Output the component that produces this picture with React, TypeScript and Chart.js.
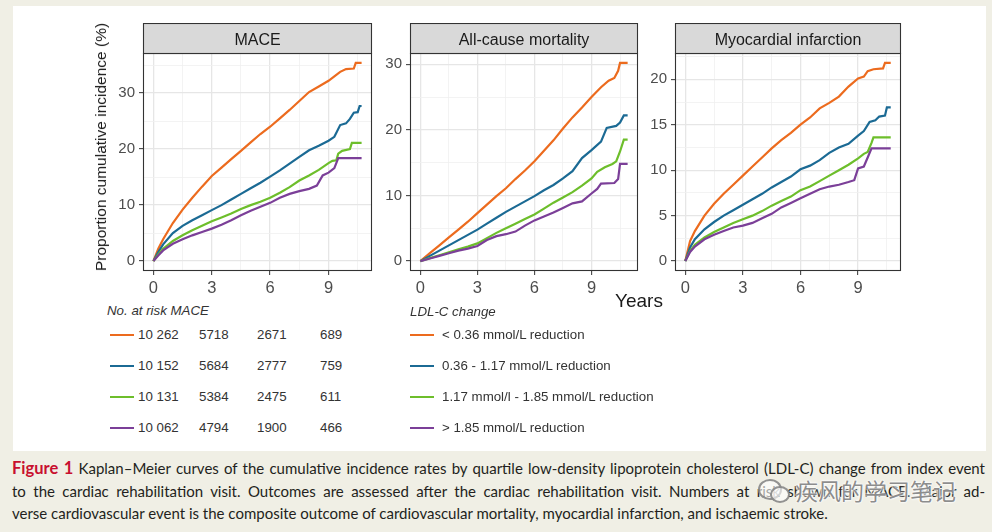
import React, { useEffect, useRef } from 'react';
import { Chart, registerables } from 'chart.js';

Chart.register(...registerables);

type Pt = [number, number];

// ---------- data ----------
const panelTitles = ['MACE', 'All-cause mortality', 'Myocardial infarction'];

const groupLabels = [
  '< 0.36 mmol/L reduction',
  '0.36 - 1.17 mmol/L reduction',
  '1.17 mmol/l - 1.85 mmol/L reduction',
  '> 1.85 mmol/L reduction',
];
const groupColors = ['#EC6B1E', '#1B6A94', '#6DBE2B', '#7B3F98'];

// MACE  [years, %]
const maceQ1: Pt[] = [[0, 0], [0.25, 2.2], [0.5, 3.9], [1, 6.8], [1.5, 9.2], [2, 11.3], [2.5, 13.3], [3, 15.2], [3.5, 16.7], [4, 18.2], [4.5, 19.7], [5, 21.2], [5.5, 22.7], [6, 24.0], [6.5, 25.5], [7, 27.0], [7.5, 28.6], [8, 30.2], [8.5, 31.2], [9, 32.2], [9.3, 33.0], [9.6, 33.8], [9.9, 34.3], [10.3, 34.4], [10.4, 35.4], [10.7, 35.4]];
const maceQ2: Pt[] = [[0, 0], [0.25, 1.6], [0.5, 3.0], [1, 5.0], [1.5, 6.3], [2, 7.3], [2.5, 8.2], [3, 9.1], [3.5, 10.0], [4, 11.0], [4.5, 12.0], [5, 13.0], [5.5, 14.0], [6, 15.1], [6.5, 16.2], [7, 17.4], [7.5, 18.6], [8, 19.8], [8.5, 20.6], [9, 21.5], [9.3, 22.2], [9.6, 24.3], [9.9, 24.6], [10.1, 25.4], [10.3, 26.5], [10.5, 26.6], [10.6, 27.7], [10.7, 27.7]];
const maceQ3: Pt[] = [[0, 0], [0.25, 1.2], [0.5, 2.2], [1, 3.6], [1.5, 4.6], [2, 5.5], [2.5, 6.3], [3, 7.1], [3.5, 7.8], [4, 8.5], [4.5, 9.3], [5, 10.0], [5.5, 10.6], [6, 11.3], [6.5, 12.2], [7, 13.2], [7.5, 14.4], [8, 15.3], [8.5, 16.3], [9, 17.5], [9.2, 17.9], [9.4, 18.0], [9.5, 19.2], [9.7, 19.7], [10.1, 20.0], [10.2, 21.1], [10.7, 21.1]];
const maceQ4: Pt[] = [[0, 0], [0.25, 1.0], [0.5, 1.9], [1, 3.1], [1.5, 3.9], [2, 4.6], [2.5, 5.2], [3, 5.8], [3.5, 6.5], [4, 7.3], [4.5, 8.2], [5, 9.0], [5.5, 9.7], [6, 10.4], [6.5, 11.3], [7, 12.0], [7.5, 12.5], [8, 12.9], [8.4, 13.5], [8.7, 15.3], [9, 15.8], [9.3, 16.6], [9.5, 18.4], [10.7, 18.4]];

// All-cause mortality
const mortQ1: Pt[] = [[0, 0], [0.5, 1.2], [1, 2.4], [1.5, 3.6], [2, 4.8], [2.5, 6.0], [3, 7.3], [3.5, 8.6], [4, 9.9], [4.5, 11.1], [5, 12.5], [5.5, 13.8], [6, 15.2], [6.5, 16.8], [7, 18.4], [7.5, 20.2], [8, 21.9], [8.5, 23.4], [9, 25.0], [9.5, 26.5], [9.9, 27.5], [10.2, 27.9], [10.4, 29.0], [10.5, 30.2], [10.9, 30.2]];
const mortQ2: Pt[] = [[0, 0], [0.5, 0.8], [1, 1.6], [1.5, 2.4], [2, 3.2], [2.5, 4.0], [3, 4.8], [3.5, 5.7], [4, 6.6], [4.5, 7.5], [5, 8.3], [5.5, 9.1], [6, 9.9], [6.5, 10.8], [7, 11.6], [7.5, 12.6], [8, 13.7], [8.5, 15.7], [9, 16.9], [9.5, 18.2], [9.8, 20.3], [10.3, 20.6], [10.5, 21.1], [10.7, 22.2], [10.9, 22.2]];
const mortQ3: Pt[] = [[0, 0], [0.5, 0.45], [1, 0.9], [1.5, 1.35], [2, 1.8], [2.5, 2.2], [3, 2.7], [3.5, 3.5], [4, 4.3], [4.5, 5.0], [5, 5.7], [5.5, 6.4], [6, 7.1], [6.5, 8.0], [7, 8.9], [7.5, 9.7], [8, 10.5], [8.5, 11.5], [9, 12.6], [9.3, 13.6], [9.7, 14.3], [10.1, 14.8], [10.3, 15.2], [10.5, 16.7], [10.7, 18.5], [10.9, 18.5]];
const mortQ4: Pt[] = [[0, 0], [0.5, 0.4], [1, 0.8], [1.5, 1.2], [2, 1.6], [2.5, 1.9], [3, 2.3], [3.5, 3.2], [4, 3.8], [4.5, 4.1], [5, 4.5], [5.5, 5.4], [6, 6.2], [6.5, 6.8], [7, 7.4], [7.5, 8.1], [8, 8.8], [8.5, 9.1], [9, 10.3], [9.3, 11.0], [9.5, 11.8], [10.2, 11.9], [10.4, 12.5], [10.5, 14.8], [10.9, 14.8]];

// Myocardial infarction
const miQ1: Pt[] = [[0, 0], [0.25, 2.2], [0.5, 3.3], [1, 5.0], [1.5, 6.3], [2, 7.4], [2.5, 8.4], [3, 9.4], [3.5, 10.4], [4, 11.4], [4.5, 12.4], [5, 13.3], [5.5, 14.1], [6, 15.0], [6.5, 15.8], [7, 16.8], [7.5, 17.4], [8, 18.1], [8.5, 19.2], [9, 20.1], [9.3, 20.3], [9.5, 20.9], [9.8, 21.1], [10.3, 21.2], [10.4, 21.8], [10.7, 21.8]];
const miQ2: Pt[] = [[0, 0], [0.25, 1.5], [0.5, 2.4], [1, 3.5], [1.5, 4.3], [2, 5.0], [2.5, 5.6], [3, 6.2], [3.5, 6.8], [4, 7.4], [4.5, 8.1], [5, 8.7], [5.5, 9.3], [6, 10.1], [6.5, 10.5], [7, 11.1], [7.5, 11.9], [8, 12.5], [8.5, 12.9], [9, 13.8], [9.3, 14.3], [9.6, 15.3], [9.9, 15.5], [10.1, 15.9], [10.4, 16.0], [10.5, 16.9], [10.7, 16.9]];
const miQ3: Pt[] = [[0, 0], [0.25, 1.1], [0.5, 1.8], [1, 2.6], [1.5, 3.2], [2, 3.7], [2.5, 4.2], [3, 4.6], [3.5, 5.0], [4, 5.5], [4.5, 6.1], [5, 6.6], [5.5, 7.1], [6, 7.8], [6.5, 8.2], [7, 8.8], [7.5, 9.4], [8, 10.0], [8.5, 10.6], [9, 11.3], [9.3, 11.8], [9.5, 12.0], [9.7, 13.0], [9.8, 13.6], [10.7, 13.6]];
const miQ4: Pt[] = [[0, 0], [0.25, 1.0], [0.5, 1.6], [1, 2.4], [1.5, 2.9], [2, 3.3], [2.5, 3.7], [3, 3.9], [3.5, 4.2], [4, 4.7], [4.5, 5.2], [5, 5.9], [5.5, 6.4], [6, 6.9], [6.5, 7.4], [7, 7.9], [7.5, 8.2], [8, 8.4], [8.5, 8.7], [8.8, 8.9], [9, 10.2], [9.3, 10.4], [9.5, 11.4], [9.7, 12.4], [10.7, 12.4]];

// ticks
const xTickLabels = [0, 3, 6, 9];
const maceYTicks = [0, 10, 20, 30];
const mortYTicks = [0, 10, 20, 30];
const miYTicks = [0, 5, 10, 15, 20];

// numbers at risk (MACE) at years 0, 3, 6, 9
const riskHeader = 'No. at risk MACE';
const riskQ1 = ['10 262', '5718', '2671', '689'];
const riskQ2 = ['10 152', '5684', '2777', '759'];
const riskQ3 = ['10 131', '5384', '2475', '611'];
const riskQ4 = ['10 062', '4794', '1900', '466'];

const legendTitle = 'LDL-C change';
const xAxisTitle = 'Years';
const yAxisTitle = 'Proportion cumulative incidence (%)';

const captionLines = [
  'Kaplan–Meier curves of the cumulative incidence rates by quartile low-density lipoprotein cholesterol (LDL-C) change from index event',
  'to the cardiac rehabilitation visit. Outcomes are assessed after the cardiac rehabilitation visit. Numbers at risk shown for MACE. Major ad-',
  'verse cardiovascular event is the composite outcome of cardiovascular mortality, myocardial infarction, and ischaemic stroke.',
];
const captionLabel = 'Figure 1';
const watermark = '疾风的学习笔记';

// ---------- layout / style ----------
const FONT = "'Liberation Sans', Arial, Helvetica, sans-serif";
const STRIP_H = 30;
const Y_AXIS_W = 50;
const X_AXIS_H = 32;
const PLOT_TOP = 53;
const PLOT_H = 218;

const panelSeries: Pt[][][] = [
  [maceQ1, maceQ2, maceQ3, maceQ4],
  [mortQ1, mortQ2, mortQ3, mortQ4],
  [miQ1, miQ2, miQ3, miQ4],
];
const panelYTicks = [maceYTicks, mortYTicks, miYTicks];
const panelLeft = [143, 410, 675];
const panelWidth = [229, 228, 226];

const near = (a: number, b: number) => Math.abs(a - b) < 1e-6;

function gridValues(majors: number[], lo: number, hi: number) {
  const step = (majors[1] - majors[0]) / 2;
  const out: number[] = [];
  for (let v = Math.ceil(lo / step - 1e-9) * step; v <= hi + 1e-9; v += step) out.push(+v.toFixed(6));
  return out;
}

const facetPlugin = {
  id: 'facet',
  afterDatasetsDraw(chart: any, _args: any, opts: any) {
    const { ctx, chartArea: a } = chart;
    const w = a.right - a.left;
    const h = a.bottom - a.top;
    ctx.save();
    ctx.strokeStyle = '#333333';
    ctx.lineWidth = 1.1;
    ctx.strokeRect(a.left + 0.5, a.top + 0.5, w - 1, h - 1);
    ctx.fillStyle = '#d9d9d9';
    ctx.fillRect(a.left + 0.5, a.top - STRIP_H + 0.5, w - 1, STRIP_H);
    ctx.strokeRect(a.left + 0.5, a.top - STRIP_H + 0.5, w - 1, STRIP_H);
    ctx.fillStyle = '#1a1a1a';
    ctx.font = `16px ${FONT}`;
    ctx.textAlign = 'center';
    ctx.textBaseline = 'middle';
    ctx.fillText(opts.title, a.left + w / 2, a.top - STRIP_H / 2 + 2.5);
    ctx.restore();
  },
};

function Panel({ idx }: { idx: number }) {
  const ref = useRef<HTMLCanvasElement>(null);
  const W = Y_AXIS_W + panelWidth[idx] + 1;
  const H = STRIP_H + PLOT_H + X_AXIS_H;

  useEffect(() => {
    const series = panelSeries[idx];
    const yTicks = panelYTicks[idx];
    const xMaxData = Math.max(...series.map((s) => s[s.length - 1][0]));
    const yMaxData = Math.max(...series.map((s) => Math.max(...s.map((p) => p[1]))));
    const xMin = -0.05 * xMaxData;
    const xMax = xMaxData * 1.05;
    const yMin = -0.05 * yMaxData;
    const yMax = yMaxData * 1.05;
    const xGrid = gridValues(xTickLabels, xMin, xMax);
    const yGrid = gridValues(yTicks, yMin, yMax);

    const gridColor = (majors: number[]) => (c: any) =>
      majors.some((m) => near(m, c.tick?.value)) ? '#e6e6e6' : '#f0f0f0';
    const gridWidth = (majors: number[]) => (c: any) =>
      majors.some((m) => near(m, c.tick?.value)) ? 1.3 : 0.8;
    const tickColor = (majors: number[]) => (c: any) =>
      majors.some((m) => near(m, c.tick?.value)) ? '#333333' : 'rgba(0,0,0,0)';

    const chart = new Chart(ref.current as HTMLCanvasElement, {
      type: 'line',
      data: {
        datasets: series.map((s, i) => ({
          label: groupLabels[i],
          data: s.map((p) => ({ x: p[0], y: p[1] })),
          borderColor: groupColors[i],
          backgroundColor: groupColors[i],
          borderWidth: 2.2,
          pointRadius: 0,
          tension: 0,
          fill: false,
          order: 3 - i,
        })),
      },
      options: {
        responsive: false,
        animation: false,
        events: [],
        layout: { padding: { top: STRIP_H, right: 1, left: 0, bottom: 0 } },
        plugins: {
          legend: { display: false },
          tooltip: { enabled: false },
          facet: { title: panelTitles[idx] },
        } as any,
        scales: {
          x: {
            type: 'linear',
            min: xMin,
            max: xMax,
            afterBuildTicks: (s: any) => {
              s.ticks = xGrid.map((v) => ({ value: v }));
            },
            afterFit: (s: any) => {
              s.height = X_AXIS_H;
              s.paddingLeft = 0;
              s.paddingRight = 0;
            },
            ticks: {
              autoSkip: false,
              maxRotation: 0,
              padding: 4,
              color: '#4d4d4d',
              font: { family: FONT, size: 16.5 },
              callback: (v: any) => (xTickLabels.some((m) => near(m, v)) ? String(v) : ''),
            },
            grid: {
              color: gridColor(xTickLabels),
              lineWidth: gridWidth(xTickLabels),
              tickColor: tickColor(xTickLabels),
              tickLength: 4,
              tickWidth: 1,
              drawTicks: true,
            },
            border: { display: false },
          },
          y: {
            type: 'linear',
            min: yMin,
            max: yMax,
            afterBuildTicks: (s: any) => {
              s.ticks = yGrid.map((v) => ({ value: v }));
            },
            afterFit: (s: any) => {
              s.width = Y_AXIS_W;
              s.paddingTop = 0;
              s.paddingBottom = 0;
            },
            ticks: {
              autoSkip: false,
              padding: 4,
              color: '#4d4d4d',
              font: { family: FONT, size: 15 },
              callback: (v: any) => (yTicks.some((m) => near(m, v)) ? String(v) : ''),
            },
            grid: {
              color: gridColor(yTicks),
              lineWidth: gridWidth(yTicks),
              tickColor: tickColor(yTicks),
              tickLength: 4,
              tickWidth: 1,
              drawTicks: true,
            },
            border: { display: false },
          },
        },
      },
      plugins: [facetPlugin as any],
    });
    return () => chart.destroy();
  }, [idx]);

  return (
    <canvas
      ref={ref}
      width={W}
      height={H}
      style={{ position: 'absolute', left: panelLeft[idx] - Y_AXIS_W, top: PLOT_TOP - STRIP_H, width: W, height: H }}
    />
  );
}

const rowY = [335, 366, 397, 428];
const riskCols = [138, 199, 257, 320];
const riskRows = [riskQ1, riskQ2, riskQ3, riskQ4];

const txt: React.CSSProperties = {
  position: 'absolute',
  fontFamily: FONT,
  fontSize: 13.3,
  lineHeight: '16px',
  color: '#333333',
  whiteSpace: 'nowrap',
};

export default function App() {
  return (
    <div style={{ position: 'absolute', left: 0, top: 0, width: 992, height: 532, background: '#f0efe5', overflow: 'hidden' }}>
      <div style={{ position: 'absolute', left: 13, top: 6, width: 973, height: 445, background: '#ffffff' }} />
      <Panel idx={0} />
      <Panel idx={1} />
      <Panel idx={2} />

      <div
        style={{
          position: 'absolute', left: 101, top: 147, transform: 'translate(-50%, -50%) rotate(-90deg)',
          fontFamily: FONT, fontSize: 15.5, color: '#1a1a1a', whiteSpace: 'nowrap', lineHeight: '18px',
        }}
      >
        {yAxisTitle}
      </div>
      <div style={{ position: 'absolute', left: 615, top: 290, fontFamily: FONT, fontSize: 19, lineHeight: '22px', color: '#1a1a1a', whiteSpace: 'nowrap' }}>
        {xAxisTitle}
      </div>

      <div style={{ ...txt, left: 107, top: 311 - 8, fontStyle: 'italic' }}>{riskHeader}</div>
      {riskRows.map((row, r) => (
        <React.Fragment key={'r' + r}>
          <div style={{ position: 'absolute', left: 110, top: rowY[r] - 1.1, width: 24, height: 2.2, background: groupColors[r] }} />
          {row.map((v, c) => (
            <div key={c} style={{ ...txt, left: riskCols[c], top: rowY[r] - 8 }}>{v}</div>
          ))}
        </React.Fragment>
      ))}

      <div style={{ ...txt, left: 410, top: 312 - 8, fontStyle: 'italic' }}>{legendTitle}</div>
      {groupLabels.map((g, r) => (
        <React.Fragment key={'g' + r}>
          <div style={{ position: 'absolute', left: 410, top: rowY[r] - 1.1, width: 24, height: 2.2, background: groupColors[r] }} />
          <div style={{ ...txt, left: 442, top: rowY[r] - 8 }}>{g}</div>
        </React.Fragment>
      ))}

      {captionLines.map((line, i) => (
        <div
          key={'c' + i}
          style={{
            position: 'absolute', left: 12, top: 457 + i * 22.5, width: 973, fontFamily: 'Lato, "Open Sans", sans-serif',
            fontSize: 15, lineHeight: '22px', color: '#231f20', whiteSpace: 'nowrap',
            textAlign: i < 2 ? 'justify' : 'left', textAlignLast: i < 2 ? 'justify' : 'left',
          } as React.CSSProperties}
        >
          {i === 0 && <span style={{ color: '#c8102e', fontWeight: 700, fontSize: 16.5 }}>{captionLabel} </span>}
          {line}
        </div>
      ))}

      <div style={{ position: 'absolute', left: 758, top: 479, width: 20, height: 17, borderRadius: '50%', border: '2px solid rgba(120,120,120,0.8)', background: 'rgba(255,255,255,0.6)' }} />
      <div style={{ position: 'absolute', left: 770, top: 486, width: 16, height: 13, borderRadius: '50%', border: '2px solid rgba(120,120,120,0.8)', background: 'rgba(255,255,255,0.6)' }} />
      <div
        style={{
          position: 'absolute', left: 795, top: 476, fontFamily: '"Noto Sans CJK SC", sans-serif', fontSize: 23,
          lineHeight: '28px', color: 'rgba(110,110,110,0.8)', whiteSpace: 'nowrap',
          textShadow: '0 0 2px #ffffff, 0 0 2px #ffffff, 0 0 3px #ffffff',
        }}
      >
        {watermark}
      </div>
    </div>
  );
}
